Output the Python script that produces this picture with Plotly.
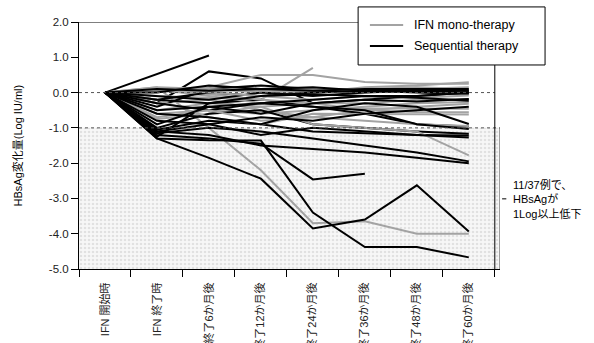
import plotly.graph_objects as go

categories = ["IFN 開始時", "IFN 終了時", "終了6か月後", "終了12か月後",
              "終了24か月後", "終了36か月後", "終了48か月後", "終了60か月後"]
y_ticks = [-5, -4, -3, -2, -1, 0, 1, 2]
y_ticktext = ["-5.0", "-4.0", "-3.0", "-2.0", "-1.0", "0.0", "1.0", "2.0"]

N = None
mono = [
    [0, 0.15, -1.0, -2.2, -3.7, -3.65, -4.0, -4.0],
    [0, 0.1, 0.15, 0.5, 0.5, 0.3, 0.25, 0.25],
    [0, -0.1, -0.15, -0.2, 0.7, N, N, N],
    [0, 0.1, 0.05, 0.1, 0.0, 0.15, 0.2, 0.29],
    [0, 0.05, 0.1, 0.0, 0.05, 0.0, 0.1, 0.15],
    [0, -0.75, -0.6, -0.4, -0.3, -0.3, -0.2, -0.18],
    [0, -0.7, -0.5, -0.6, -0.5, -0.4, -0.3, -0.27],
    [0, -0.3, -0.2, -0.5, -0.7, -0.5, -0.4, -0.32],
    [0, -0.5, -0.3, -0.4, -0.9, -1.0, -1.1, -1.78],
    [0, 0.1, -0.1, -0.3, -0.4, -0.45, -0.45, -0.46],
    [0, 0.05, -0.05, -0.2, -0.3, -0.5, -0.55, -0.56],
    [0, -0.2, -0.7, -0.9, -0.6, -0.6, -0.6, -0.62],
    [0, 0.1, 0.0, -0.1, -0.2, -0.1, -0.15, -0.08],
    [0, -0.6, -0.5, -0.8, -0.7, -0.8, -0.9, -0.95],
    [0, 0.15, 0.1, 0.05, 0.1, 0.1, 0.15, 0.1],
]
seq = [
    [0, 0.52, 1.05, N, N, N, N, N],
    [0, -0.3, 0.6, 0.4, -0.3, -0.2, -0.1, 0.0],
    [0, -1.3, -1.85, -2.44, -3.85, -3.6, -2.63, -3.94],
    [0, -1.3, -1.35, -1.36, -3.4, -4.38, -4.38, -4.67],
    [0, -1.2, -1.3, -1.45, -2.46, -2.3, N, N],
    [0, -1.1, -1.2, -1.5, -1.6, -1.7, -1.85, -2.0],
    [0, -1.15, -1.0, -1.1, -1.3, -1.5, -1.7, -1.95],
    [0, -1.05, -0.8, -0.9, -1.1, -1.15, -1.2, -1.22],
    [0, -1.0, -0.6, -0.5, -0.9, -1.0, -1.1, -1.17],
    [0, -1.25, -0.3, -0.2, -0.4, -0.6, -0.9, -0.96],
    [0, -0.4, 0.1, 0.2, 0.1, 0.1, 0.05, 0.06],
    [0, -0.2, 0.0, -0.1, 0.0, 0.05, 0.0, -0.04],
    [0, -0.1, -0.2, 0.0, -0.1, 0.0, 0.05, 0.0],
    [0, -0.3, -0.5, -0.3, -0.2, -0.1, -0.15, -0.23],
    [0, -0.6, -0.7, -0.9, -0.5, -0.3, -0.4, -0.89],
    [0, -0.8, -0.9, -1.2, -1.0, -1.1, -1.2, -1.27],
    [0, 0.1, 0.05, 0.1, 0.05, 0.1, 0.1, 0.1],
    [0, -0.5, -0.4, -0.6, -0.3, -0.2, -0.25, -0.18],
    [0, -0.9, -0.4, -0.3, -0.4, -0.5, -0.9, -1.03],
    [0, -0.2, -0.3, -0.1, -0.05, -0.1, -0.1, 0.0],
    [0, -1.1, -0.9, -0.7, -0.8, -0.6, -0.5, -0.4],
    [0, 0.0, 0.2, 0.1, 0.15, 0.05, 0.1, 0.05],
]

GREY = "#a3a3a3"
FONT = "Liberation Sans, Arial, Noto Sans CJK JP, sans-serif"
xs = list(range(len(categories)))

fig = go.Figure()
# shaded region (below -1 log)
fig.add_trace(go.Scatter(
    x=[-0.5, 7.6, 7.6, -0.5, -0.5], y=[-1, -1, -5, -5, -1], mode="lines",
    line=dict(width=0), fill="toself", fillcolor="#f3f3f3",
    fillpattern=dict(shape=".", fgcolor="#cccccc", bgcolor="#f7f7f7", size=4, solidity=0.35),
    hoverinfo="skip", showlegend=False))

order = []
for i in range(max(len(mono), len(seq))):
    if i < len(seq):
        order.append(("seq", seq[i]))
    if i < len(mono):
        order.append(("mono", mono[i]))
for kind, vals in order:
    fig.add_trace(go.Scatter(
        x=xs, y=vals, mode="lines",
        line=dict(color=GREY if kind == "mono" else "black", width=2),
        connectgaps=False, showlegend=False, hoverinfo="skip"))

shapes = [
    dict(type="line", xref="x", yref="y", x0=-0.5, x1=7.5, y0=0, y1=0,
         line=dict(color="#555", width=1, dash="dot")),
    dict(type="line", xref="x", yref="y", x0=-0.5, x1=7.6, y0=-1, y1=-1,
         line=dict(color="#555", width=1, dash="dot")),
    # frame top and right
    dict(type="line", xref="x", yref="y", x0=-0.5, x1=7.5, y0=2, y1=2,
         line=dict(color="black", width=1)),
    dict(type="line", xref="x", yref="y", x0=7.5, x1=7.5, y0=2, y1=-5,
         line=dict(color="black", width=1)),
    # shaded box right edge
    dict(type="line", xref="x", yref="y", x0=7.6, x1=7.6, y0=-1, y1=-5,
         line=dict(color="#444", width=1)),
    # small tick pointing to annotation
    dict(type="line", xref="paper", yref="paper", x0=1.005, x1=1.015, y0=0.284, y1=0.284,
         line=dict(color="black", width=1)),
    # legend box
    dict(type="rect", xref="paper", yref="paper", x0=0.663, x1=1.107, y0=0.826, y1=1.061,
         line=dict(color="black", width=1), fillcolor="white", layer="above"),
    dict(type="line", xref="paper", yref="paper", x0=0.691, x1=0.770, y0=0.988, y1=0.988,
         line=dict(color=GREY, width=2), layer="above"),
    dict(type="line", xref="paper", yref="paper", x0=0.691, x1=0.770, y0=0.903, y1=0.903,
         line=dict(color="black", width=2), layer="above"),
]

annotations = [
    dict(text="IFN mono-therapy", xref="paper", yref="paper", x=0.791, y=0.988,
         xanchor="left", yanchor="middle", showarrow=False, font=dict(size=12.5, color="black")),
    dict(text="Sequential therapy", xref="paper", yref="paper", x=0.791, y=0.903,
         xanchor="left", yanchor="middle", showarrow=False, font=dict(size=12.5, color="black")),
    dict(text="11/37例で、<br>HBsAgが<br>1Log以上低下", xref="paper", yref="paper",
         x=1.025, y=0.284, xanchor="left", yanchor="middle", align="left", showarrow=False,
         font=dict(size=11, color="black")),
    dict(text="HBsAg変化量(Log IU/ml)", xref="paper", yref="paper", x=-0.145, y=0.5,
         textangle=-90, xanchor="center", yanchor="middle", showarrow=False,
         font=dict(size=11, color="black")),
]

fig.update_layout(
    width=594, height=343,
    margin=dict(l=79, r=94, t=22, b=74),
    paper_bgcolor="white", plot_bgcolor="white",
    font=dict(family=FONT, size=11, color="#222"),
    shapes=shapes, annotations=annotations, showlegend=False,
    xaxis=dict(range=[-0.5, 7.6], tickmode="array", tickvals=xs, ticktext=categories,
               tickangle=-90, ticks="", showgrid=False, zeroline=False,
               showline=True, linecolor="black", linewidth=1, automargin=False,
               ticklabelstandoff=8,
               tickfont=dict(size=11, color="#222"),
               minor=dict(tickmode="array", tickvals=[i - 0.5 for i in range(9)],
                          ticks="outside", ticklen=7, tickcolor="black", showgrid=False)),
    yaxis=dict(range=[-5, 2], tickmode="array", tickvals=y_ticks, ticktext=y_ticktext,
               ticks="outside", ticklen=7, tickcolor="black", showgrid=False, zeroline=False,
               showline=True, linecolor="black", linewidth=1, automargin=False,
               tickfont=dict(size=11.5, color="#222")),
)

fig.write_html("out.html")
